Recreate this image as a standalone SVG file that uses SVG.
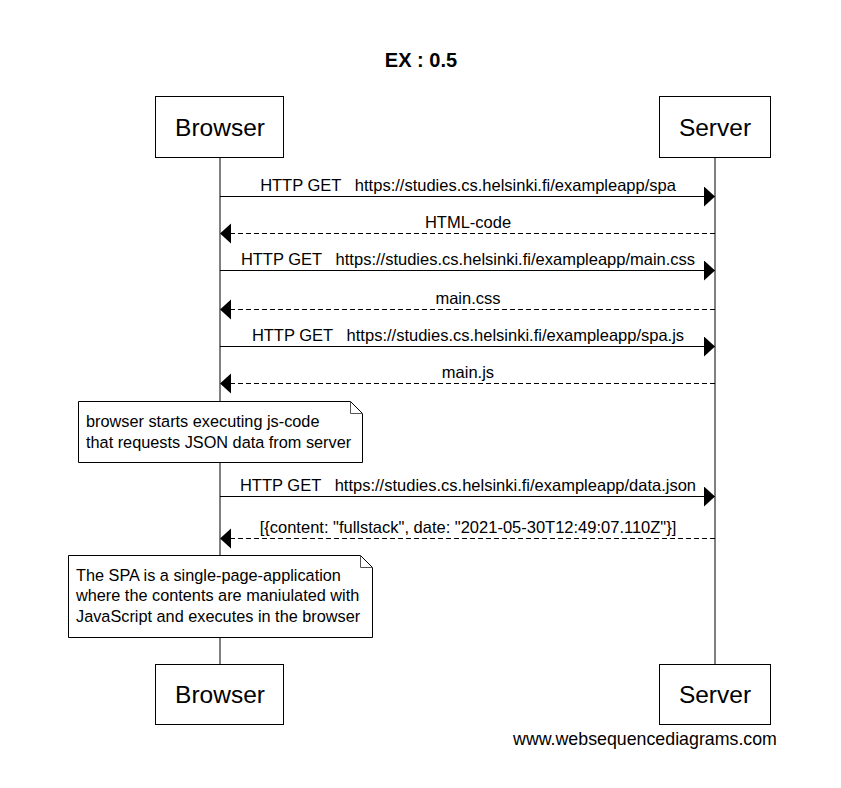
<svg xmlns="http://www.w3.org/2000/svg" width="841" height="788" viewBox="0 0 841 788">
<style>
text{font-family:"Liberation Sans",Arial,sans-serif;fill:#000}
.title{font-size:20px;font-weight:bold}
.actor{font-size:24.5px}
.lbl{font-size:16.5px;white-space:pre}
.note{font-size:16.3px}
.box{fill:#fff;stroke:#000;stroke-width:1}
.life{stroke:#000;stroke-width:1}
.msg{stroke:#000;stroke-width:1;fill:none}
.fold{stroke:#555;stroke-width:1;fill:none}
.ret{stroke:#000;stroke-width:1;fill:none;stroke-dasharray:5,3}
.foot{font-size:17.8px}
</style>
<defs>
<marker id="ah" markerUnits="userSpaceOnUse" markerWidth="13" markerHeight="22" refX="11" refY="10" orient="auto">
<path d="M0,0 L11,10 L0,20 z" fill="#000"/>
</marker>
</defs>
<rect width="841" height="788" fill="#fff"/>
<text class="title" x="421" y="67" text-anchor="middle">EX : 0.5</text>
<g id="lifelines">
<line class="life" x1="220" y1="157" x2="220" y2="664"/>
<line class="life" x1="715" y1="157" x2="715" y2="664"/>
</g>
<g id="browser-top"><rect class="box" x="155.5" y="96.5" width="128" height="61"/><text class="actor" x="220" y="136" text-anchor="middle">Browser</text></g>
<g id="server-top"><rect class="box" x="659.5" y="96.5" width="111" height="61"/><text class="actor" x="715" y="136" text-anchor="middle">Server</text></g>
<g id="connectors">
<line class="msg" x1="220" y1="196.5" x2="715" y2="196.5" marker-end="url(#ah)"/>
<text class="lbl" x="468" y="191" text-anchor="middle">HTTP GET   https://studies.cs.helsinki.fi/exampleapp/spa</text>
<line class="ret" x1="715" y1="233.5" x2="220" y2="233.5" marker-end="url(#ah)"/>
<text class="lbl" x="468" y="228" text-anchor="middle">HTML-code</text>
<line class="msg" x1="220" y1="270.5" x2="715" y2="270.5" marker-end="url(#ah)"/>
<text class="lbl" x="468" y="265" text-anchor="middle">HTTP GET   https://studies.cs.helsinki.fi/exampleapp/main.css</text>
<line class="ret" x1="715" y1="309.5" x2="220" y2="309.5" marker-end="url(#ah)"/>
<text class="lbl" x="468" y="304" text-anchor="middle">main.css</text>
<line class="msg" x1="220" y1="346.5" x2="715" y2="346.5" marker-end="url(#ah)"/>
<text class="lbl" x="468" y="341" text-anchor="middle">HTTP GET   https://studies.cs.helsinki.fi/exampleapp/spa.js</text>
<line class="ret" x1="715" y1="383.5" x2="220" y2="383.5" marker-end="url(#ah)"/>
<text class="lbl" x="468" y="378" text-anchor="middle">main.js</text>
<line class="msg" x1="220" y1="496.5" x2="715" y2="496.5" marker-end="url(#ah)"/>
<text class="lbl" x="468" y="491" text-anchor="middle">HTTP GET   https://studies.cs.helsinki.fi/exampleapp/data.json</text>
<line class="ret" x1="715" y1="538.5" x2="220" y2="538.5" marker-end="url(#ah)"/>
<text class="lbl" x="468" y="533" text-anchor="middle">[{content: "fullstack", date: "2021-05-30T12:49:07.110Z"}]</text>
</g>
<g id="note1">
<path class="box" d="M78.5,401.5 H350.5 L362.5,413.5 V462.5 H78.5 Z"/>
<path class="fold" d="M350.5,401.5 V413.5 H362.5"/>
<text class="note" x="86" y="427">browser starts executing js-code</text>
<text class="note" x="86" y="448">that requests JSON data from server</text>
</g>
<g id="note2">
<path class="box" d="M68.5,555.5 H360.5 L372.5,567.5 V637.5 H68.5 Z"/>
<path class="fold" d="M360.5,555.5 V567.5 H372.5"/>
<text class="note" x="76" y="581">The SPA is a single-page-application</text>
<text class="note" x="76" y="601">where the contents are maniulated with</text>
<text class="note" x="76" y="622">JavaScript and executes in the browser</text>
</g>
<g id="browser-bottom"><rect class="box" x="155.5" y="664.5" width="128" height="60"/><text class="actor" x="220" y="703" text-anchor="middle">Browser</text></g>
<g id="server-bottom"><rect class="box" x="659.5" y="664.5" width="111" height="60"/><text class="actor" x="715" y="703" text-anchor="middle">Server</text></g>
<text class="foot" x="645" y="745" text-anchor="middle">www.websequencediagrams.com</text>
</svg>
